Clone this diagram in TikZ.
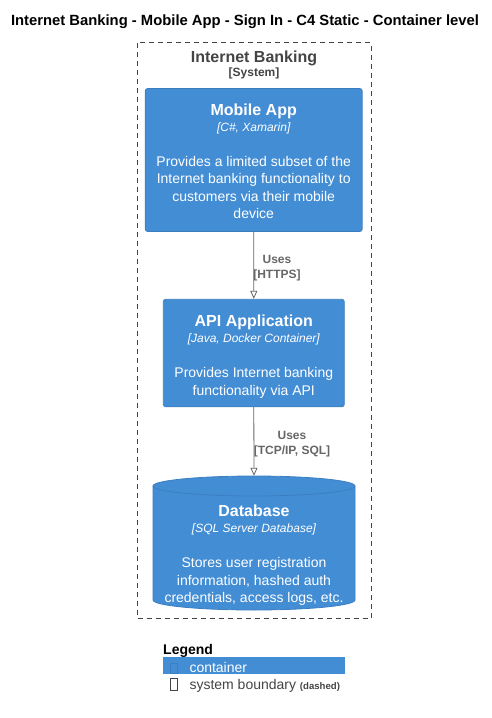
\documentclass[tikz,border=0pt]{standalone}
\usepackage{fontspec}
\setmainfont{Liberation Sans}
\usetikzlibrary{arrows.meta}
\definecolor{c4blue}{HTML}{438DD5}
\definecolor{c4border}{HTML}{3C7FC0}
\definecolor{bndgray}{HTML}{444444}
\definecolor{relgray}{HTML}{666666}
\newcommand{\fsz}[1]{\fontsize{#1}{#1}\selectfont}
\tikzset{
  box/.style={draw=c4border, fill=c4blue, rounded corners=2.5pt, line width=0.8pt, inner sep=0pt},
  txt/.style={anchor=base, inner sep=0pt, text=white},
  ttl/.style={txt, font=\fsz{16}\bfseries},
  tech/.style={txt, font=\fsz{12}\itshape},
  desc/.style={txt, font=\fsz{14}},
  rel/.style={draw=relgray, line width=0.8pt, -{Triangle[open, length=8pt, width=7pt]}},
  rellbl/.style={anchor=base, inner sep=0pt, text=relgray, font=\fsz{12}\bfseries},
}
\begin{document}
\begin{tikzpicture}[x=1pt, y=-1pt]
\useasboundingbox (0,0) rectangle (492,718);
% title
\node[anchor=base, inner sep=0pt, font=\fsz{14.8}\bfseries] (title) at (245,25.5) {Internet Banking - Mobile App - Sign In - C4 Static - Container level};
% boundary
\draw[bndgray, line width=0.8pt, dash pattern=on 5pt off 4pt] (137,42.5) rectangle (371,618);
\node[anchor=base, inner sep=0pt, font=\fsz{16}\bfseries, text=bndgray] (bname) at (254,62) {Internet Banking};
\node[anchor=base, inner sep=0pt, font=\fsz{12}\bfseries, text=bndgray] (btype) at (254,76.5) {[System]};
% mobile app
\node[box, minimum width=217pt, minimum height=143pt] (mobile) at (253.7,160) {};
\node[ttl] (mt) at (253.7,115) {Mobile App};
\node[tech] (mk) at (253.7,131) {[C\#, Xamarin]};
\node[desc] (md1) at (253.7,166) {Provides a limited subset of the};
\node[desc] (md2) at (253.7,183.5) {Internet banking functionality to};
\node[desc] (md3) at (253.7,201) {customers via their mobile};
\node[desc] (md4) at (253.7,218.5) {device};
% api
\node[box, minimum width=181pt, minimum height=107.5pt] (api) at (253.8,353) {};
\node[ttl] (at) at (253.8,326.5) {API Application};
\node[tech] (ak) at (253.8,342) {[Java, Docker Container]};
\node[desc] (ad1) at (253.8,377.3) {Provides Internet banking};
\node[desc] (ad2) at (253.8,395) {functionality via API};
% database
\node[inner sep=0pt, minimum width=202pt, minimum height=134pt] (db) at (254,543) {};
\fill[c4blue] (153,486) -- (153,600) arc (180:0:101 and 10) -- (355,486) arc (360:180:101 and 10) -- cycle;
\draw[c4border, line width=0.8pt] (153,486) -- (153,600) arc (180:0:101 and 10) -- (355,486) arc (360:180:101 and 10) -- cycle;
\draw[c4border, line width=0.8pt] (153,486) arc (180:0:101 and 10);
\node[ttl] (dt) at (254,516.7) {Database};
\node[tech] (dk) at (254,532) {[SQL Server Database]};
\node[desc] (dd1) at (254,567.3) {Stores user registration};
\node[desc] (dd2) at (254,585) {information, hashed auth};
\node[desc] (dd3) at (254,602.7) {credentials, access logs, etc.};
% relations
\draw[rel] (mobile.south) -- (api.north);
\node[rellbl] (r1a) at (277,263.3) {Uses};
\node[rellbl] (r1b) at (277,278) {[HTTPS]};
\draw[rel] (api.south) -- (db.north);
\node[rellbl] (r2a) at (292,439.3) {Uses};
\node[rellbl] (r2b) at (292,454) {[TCP/IP, SQL]};
% legend
\node[anchor=base west, inner sep=0pt, font=\fsz{14}\bfseries] (leg) at (163,654) {Legend};
\fill[c4blue] (163,657) rectangle (345,674);
\draw[c4border, line width=0.7pt] (170.7,663) rectangle (177.7,673);
\node[anchor=base west, inner sep=0pt, font=\fsz{14}, text=white] (l1) at (189.3,672) {container};
\draw[bndgray, line width=0.7pt] (170.7,678) rectangle (177.7,690);
\node[anchor=base west, inner sep=0pt, font=\fsz{14}, text=bndgray] (l2) at (189.3,689) {system boundary \fsz{9.6}\bfseries(dashed)};
\end{tikzpicture}
\end{document}
